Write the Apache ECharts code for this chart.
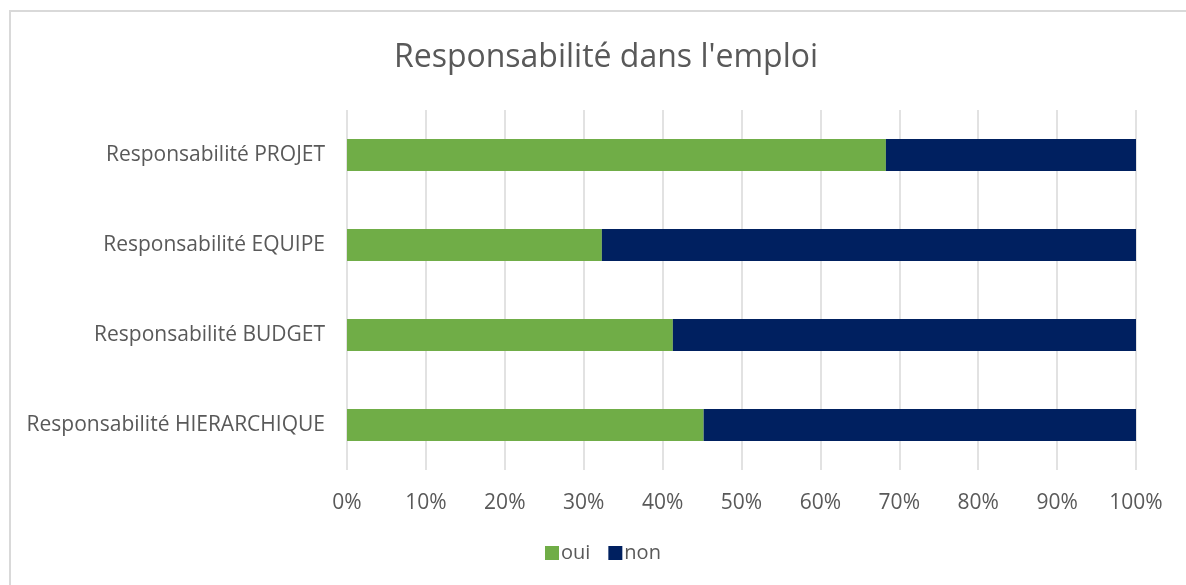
<!DOCTYPE html>
<html>
<head>
<meta charset="utf-8">
<script src="https://cdn.jsdelivr.net/npm/echarts@6/dist/echarts.min.js"></script>
<style>
    html, body { margin: 0; padding: 0; background: #fff; overflow: hidden; }
    .frame {
        position: absolute;
        left: 9px;
        top: 10px;
        width: 1200px;
        height: 600px;
        border: 2px solid #d9d9d9;
        box-sizing: border-box;
    }
    #chart { position: absolute; left: 0; top: 0; width: 1186px; height: 585px; }
</style>
</head>
<body>
<div class="frame"></div>
<div id="chart"></div>
<script>
// bottom to top, as echarts draws a category y axis
const categories = ['Responsabilité HIERARCHIQUE', 'Responsabilité BUDGET', 'Responsabilité EQUIPE', 'Responsabilité PROJET']
const oui = [45.2, 41.3, 32.3, 68.3]
const non = [54.8, 58.7, 67.7, 31.7]
const xTicks = [0, 10, 20, 30, 40, 50, 60, 70, 80, 90, 100]

const font = '"Open Sans", sans-serif'
const textColor = '#595959'

const myChart = echarts.init(document.getElementById('chart'))
myChart.setOption({
    animation: false,
    title: {
        text: "Responsabilité dans l'emploi",
        left: 601,
        textAlign: 'center',
        top: 37,
        textStyle: { fontFamily: font, fontSize: 32, fontWeight: 'normal', color: textColor }
    },
    legend: {
        data: ['oui', 'non'],
        bottom: 17,
        left: 540,
        icon: 'rect',
        itemWidth: 14,
        itemHeight: 14,
        itemGap: 18,
        textStyle: { fontFamily: font, fontSize: 20, color: textColor, padding: [0, 0, 0, -3] }
    },
    grid: { left: 347, right: 50, top: 110, bottom: 115 },
    xAxis: {
        type: 'value',
        min: xTicks[0],
        max: xTicks[xTicks.length - 1],
        interval: 10,
        axisLine: { show: false },
        axisTick: { show: false },
        axisLabel: {
            formatter: '{value}%',
            fontFamily: font, fontSize: 21, color: textColor, margin: 23
        },
        splitLine: { show: true, lineStyle: { color: '#d9d9d9', width: 1.5 } }
    },
    yAxis: {
        type: 'category',
        data: categories,
        axisLine: { show: false },
        axisTick: { show: false },
        axisLabel: { fontFamily: font, fontSize: 21, color: textColor, margin: 22 }
    },
    series: [
        {
            name: 'oui', type: 'bar', stack: 'total', data: oui,
            barWidth: 32,
            itemStyle: { color: '#70ad47' }
        },
        {
            name: 'non', type: 'bar', stack: 'total', data: non,
            barWidth: 32,
            itemStyle: { color: '#002060' }
        }
    ]
})
</script>
</body>
</html>
